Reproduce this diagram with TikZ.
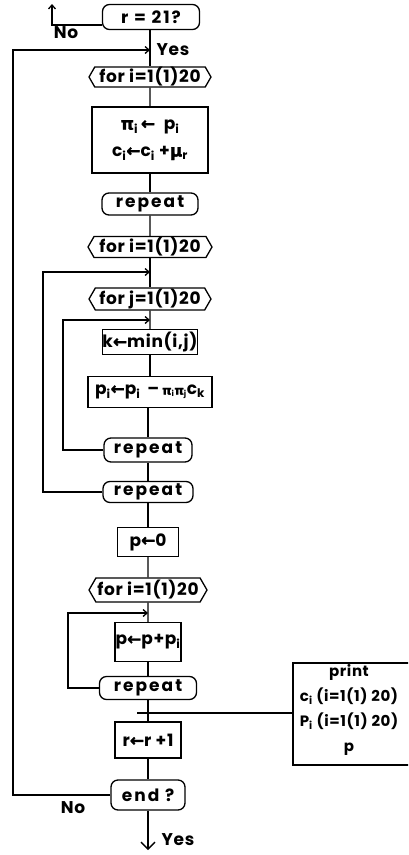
\documentclass[tikz,border=0pt]{standalone}
\usepackage{fontspec}
\setmainfont{Poppins}[LetterSpace=4]
\newfontfamily\gk{DejaVu Sans}[FakeBold=1.5]
\usetikzlibrary{shapes.symbols,arrows.meta}
\newcommand\sbs[1]{\textsubscript{#1}}
\newcommand\lar{{\gk\char"2190}}
\newcommand\gpi{{\gk\char"03C0}}
\newcommand\gmu{{\gk\char"03BC}}
\begin{document}
\begin{tikzpicture}[x=1pt,y=-1pt, line width=1.3pt,
  every node/.style={font=\fontsize{17}{20}\selectfont\bfseries, inner sep=0pt},
  box/.style={draw, rectangle, align=center},
  forbox/.style={draw, signal, signal to=west and east, signal pointer angle=120},
  repbox/.style={draw, rectangle, rounded corners=7pt, font=\fontsize{17}{20}\selectfont\bfseries\addfontfeature{LetterSpace=12}},
  arr/.style={-{Straight Barb[length=4pt,width=7pt]}},
  endarr/.style={-{Straight Barb[length=7pt,width=14pt]}}]
\useasboundingbox (0,0) rectangle (408,855);
\clip (0,0) rectangle (408,855);
% main column
\node[repbox, minimum width=97, minimum height=25] (top) at (151,17) {r = 21?};
\node[forbox, minimum width=122, minimum height=20] (for1) at (150,77) {for i=1(1)20};
\node[box, minimum width=116, minimum height=66, font=\fontsize{17}{27}\selectfont\bfseries] (b1) at (150,140)
  {\gpi\sbs{i}\,\lar\ \ p\sbs{i}\\c\sbs{i}\lar c\sbs{i} +\gmu\sbs{r}};
\node[repbox, minimum width=96, minimum height=22] (rep1) at (150,204) {repeat};
\node[forbox, minimum width=124, minimum height=21] (for2) at (150,247) {for i=1(1)20};
\node[forbox, minimum width=122, minimum height=22] (forj) at (150,299) {for j=1(1)20};
\node[box, minimum width=88, minimum height=25] (kmin) at (150,342) {k\lar min(i,j)};
\node[box, minimum width=124, minimum height=31] (pb) at (150,392)
  {p\sbs{i}\lar p\sbs{i} \,--\,{\fontsize{12}{12}\selectfont\gpi\sbs{i}\gpi\sbs{j}}c\sbs{k}};
\node[repbox, minimum width=88, minimum height=24] (rep2) at (148,450) {repeat};
\node[repbox, minimum width=90, minimum height=21] (rep3) at (148,492) {repeat};
\node[box, minimum width=61, minimum height=29] (p0) at (148,542) {p\lar 0};
\node[forbox, minimum width=118, minimum height=24] (for3) at (148,590) {for i=1(1)20};
\node[box, minimum width=66, minimum height=39] (ppp) at (148,642) {p\lar p+p\sbs{i}};
\node[repbox, minimum width=97, minimum height=23] (rep4) at (148,688) {repeat};
\node[box, minimum width=66, minimum height=36] (rr) at (148,740) {r\lar r +1};
\node[repbox, minimum width=74, minimum height=30] (endq) at (148,795) {end ?};
% print box
\node[draw, rectangle, minimum width=119, minimum height=102] (prt) at (352.5,714) {};
\node[align=center, font=\fontsize{15}{25}\selectfont\bfseries] (prtxt) at (349,710)
  {print\\c\sbs{i} (i=1(1) 20)\\P\sbs{i} (i=1(1) 20)\\p};
% coordinates
\coordinate (j0) at (150,50);
\coordinate (L0) at (13,50);
\coordinate (j1) at (150,272);
\coordinate (L1) at (43,272);
\coordinate (j2) at (150,320);
\coordinate (L2) at (63,320);
\coordinate (j3) at (148,613);
\coordinate (L3) at (68,613);
\coordinate (t1) at (137,713);
\coordinate (noup) at (52,4);
\coordinate (yesend) at (148,850);
% main connectors
\draw (top.south -| for1) -- (for1.north);
\draw (for1) -- (b1);
\draw (b1) -- (rep1);
\draw (rep1) -- (for2);
\draw (for2.south) -- (forj.north -| for2.south);
\draw (forj) -- (kmin);
\draw (kmin) -- (pb);
\draw (pb.south -| rep2) -- (rep2.north);
\draw (rep2) -- (rep3);
\draw (rep3) -- (p0);
\draw (p0) -- (for3);
\draw (for3) -- (ppp);
\draw (ppp) -- (rep4);
\draw (rep4) -- (rr);
\draw (rr) -- (endq);
\draw[endarr] (endq) -- (yesend);
% loops
\draw[arr] (endq.west) -- (endq.west -| L0) -- (L0) -- (j0);
\draw[arr] (rep3.west) -- (rep3.west -| L1) -- (L1) -- (j1);
\draw[arr] (rep2.west) -- (rep2.west -| L2) -- (L2) -- (j2);
\draw[arr] (rep4.west) -- (rep4.west -| L3) -- (L3) -- (j3);
% No exit at top
\draw[arr] ([yshift=-8pt]top.west) -- ([yshift=-8pt]top.west -| noup) -- (noup);
% print connector
\draw (t1) -- (t1 -| prt.west);
% labels
\node (no1) at (66,33) {No};
\node[anchor=west] (yes1) at (156,50) {Yes};
\node (no2) at (73,808) {No};
\node (yes2) at (178,840) {Yes};
\end{tikzpicture}
\end{document}
